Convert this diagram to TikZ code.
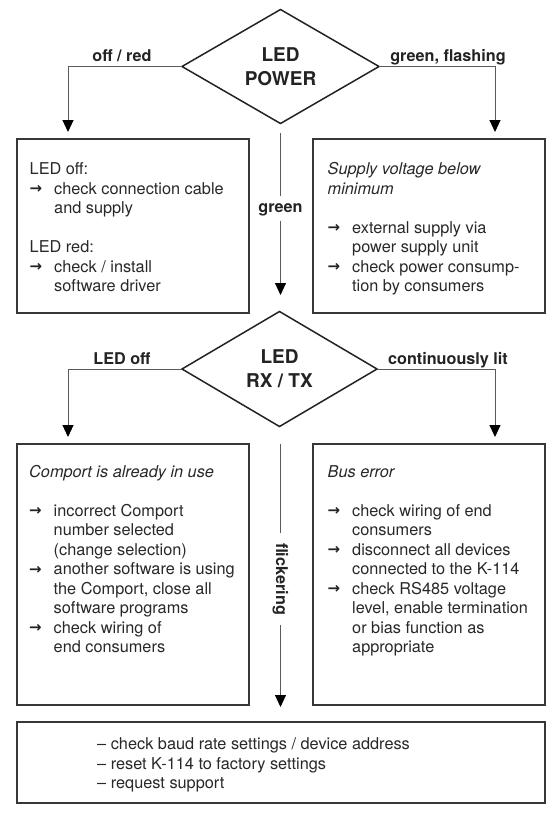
\documentclass[tikz,border=0pt]{standalone}
\usepackage{fontspec}
\setmainfont{TeX Gyre Heros}
\newfontfamily\arrfont{DejaVu Sans}
\usetikzlibrary{shapes.geometric,arrows.meta}
\definecolor{dk}{RGB}{35,35,35}
\definecolor{bxc}{RGB}{55,55,55}
\definecolor{ln}{RGB}{90,90,90}
\definecolor{txt}{RGB}{40,40,40}
\newcommand{\arr}{\makebox[24.5pt][l]{\color{dk}\arrfont\bfseries\fontsize{15}{15}\selectfont\raisebox{0.3pt}{→}}}
\newcommand{\ttl}[1]{\multicolumn{2}{@{}l@{}}{#1}}
\tikzset{
  dia/.style={diamond, draw=dk, line width=1.5pt, inner sep=0pt, outer sep=0pt,
    align=center, text=dk, font=\bfseries\fontsize{19}{24}\selectfont},
  boxn/.style={draw=bxc, line width=1.8pt, inner sep=0pt, outer sep=0pt, anchor=north west},
  bt/.style={anchor=base west, inner sep=0pt, text=txt, font=\fontsize{16.3}{19.5}\selectfont},
  lbl/.style={anchor=base, inner sep=0pt, text=dk, font=\bfseries\fontsize{16.2}{19}\selectfont},
  conn/.style={draw=ln, line width=1pt},
  tipa/.style={-{Triangle[width=11pt,length=12pt,color=black]}},
  gapl/.style={text=dk, font=\bfseries\fontsize{16.2}{19}\selectfont, draw=none}
}
\begin{document}
\begin{tikzpicture}[x=1pt,y=-1pt]
\useasboundingbox (0,0) rectangle (554,817);
\fill[white] (0,0) rectangle (554,817);

% diamonds
\node[dia, minimum width=197pt, minimum height=114pt] (pow) at (280.5,66.5) {LED\\POWER};
\node[dia, minimum width=195pt, minimum height=115pt] (rxtx) at (279.5,369) {LED\\RX / TX};

% boxes
\node[boxn, minimum width=232pt, minimum height=174pt] (bL1) at (17,139) {};
\node[boxn, minimum width=232pt, minimum height=174pt] (bR1) at (313,139) {};
\node[boxn, minimum width=232pt, minimum height=261pt] (bL2) at (17,444) {};
\node[boxn, minimum width=232pt, minimum height=261pt] (bR2) at (313,444) {};
\node[boxn, minimum width=528pt, minimum height=81pt] (bB) at (17,722) {};

% branch labels
\node[lbl] (l1) at (122,61.5) {off / red};
\node[lbl] (l2) at (448,61.5) {green, flashing};
\node[lbl] (l3) at (122,364) {LED off};
\node[lbl] (l4) at (448,364) {continuously lit};

% side connectors
\coordinate (aL1) at (68,132);
\coordinate (aR1) at (495,132);
\coordinate (aL2) at (68,437);
\coordinate (aR2) at (495,437);
\draw[conn,tipa] (pow.west) -| (aL1);
\draw[conn,tipa] (pow.east) -| (aR1);
\draw[conn,tipa] (rxtx.west) -| (aL2);
\draw[conn,tipa] (rxtx.east) -| (aR2);

% central connectors
\coordinate (g0) at (280.5,133);
\coordinate (aC1) at (280.5,295);
\node[gapl, anchor=base, text height=12pt, text depth=4pt, inner xsep=2pt, inner ysep=4pt] (green) at (280.5,212.5) {green};
\draw[conn] (g0) -- (green);
\draw[conn,tipa] (green) -- (aC1);

\coordinate (f0) at (280.5,444);
\coordinate (aC2) at (280.5,707);
\node[gapl, rotate=-90, inner xsep=10pt, inner ysep=3pt] (flick) at (280.5,579) {flickering};
\draw[conn] (f0) -- (flick);
\draw[conn,tipa] (flick) -- (aC2);

% box texts
\node[bt] (tL1) at (29.5,174.5) {\begin{tabular}[t]{@{}l@{}l@{}}
\ttl{LED off:}\\
\arr & check connection cable\\
 & and supply\\
 & \\
\ttl{LED red:}\\
\arr & check / install\\
 & software driver
\end{tabular}};

\node[bt] (tR1) at (327.5,174.5) {\begin{tabular}[t]{@{}l@{}l@{}}
\ttl{\itshape Supply voltage below}\\
\ttl{\itshape minimum}\\
 & \\
\arr & external supply via\\
 & power supply unit\\
\arr & check power consump-\\
 & tion by consumers
\end{tabular}};

\node[bt] (tL2) at (29,477) {\begin{tabular}[t]{@{}l@{}l@{}}
\ttl{\itshape Comport is already in use}\\
 & \\
\arr & incorrect Comport\\
 & number selected\\
 & (change selection)\\
\arr & another software is using\\
 & the Comport, close all\\
 & software programs\\
\arr & check wiring of\\
 & end consumers
\end{tabular}};

\node[bt] (tR2) at (327.5,477) {\begin{tabular}[t]{@{}l@{}l@{}}
\ttl{\itshape Bus error}\\
 & \\
\arr & check wiring of end\\
 & consumers\\
\arr & disconnect all devices\\
 & connected to the K-114\\
\arr & check RS485 voltage\\
 & level, enable termination\\
 & or bias function as\\
 & appropriate
\end{tabular}};

\node[bt] (tB) at (97,749.5) {\begin{tabular}[t]{@{}l@{}}
– check baud rate settings / device address\\
– reset K-114 to factory settings\\
– request support
\end{tabular}};
\end{tikzpicture}
\end{document}
